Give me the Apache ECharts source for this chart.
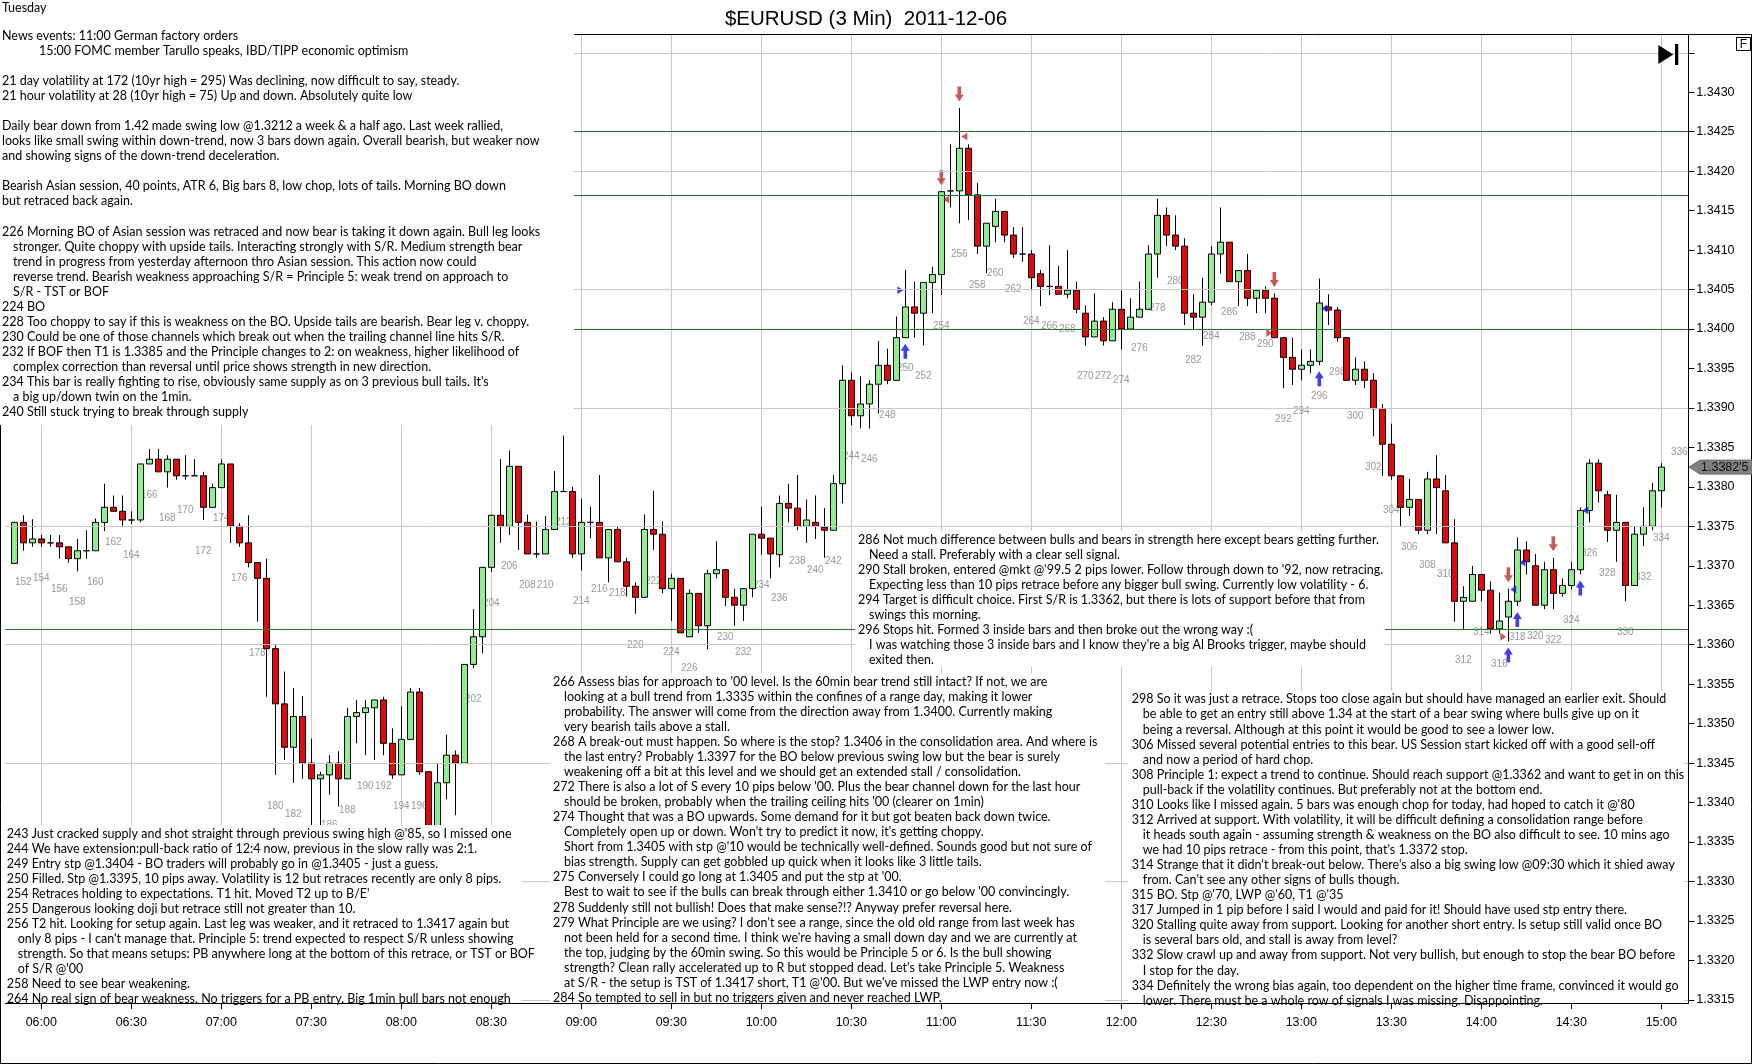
<!DOCTYPE html>
<html><head><meta charset="utf-8">
<script src="https://cdn.jsdelivr.net/npm/echarts@6/dist/echarts.min.js"></script>
<style>html,body{margin:0;padding:0;background:#fff;overflow:hidden}#c{width:1752px;height:1064px}</style>
</head><body><div id="c"></div>
<script>
// ---------------- DATA ----------------
const slotStart = 150, slotEnd = 337, firstBar = 151;
const opens = [
1.33703,1.33755,1.33729,1.33734,1.33729,1.33729,1.33724,1.33709,1.33719,1.33719,
1.33755,1.33774,1.33769,1.33758,1.33758,1.33829,1.33835,1.33819,1.33835,1.33814,
1.33814,1.33814,1.33774,1.33799,1.33829,1.33750,1.33729,1.33704,1.33684,1.33595,
1.33525,1.33470,1.33509,1.33450,1.33430,1.33435,1.33450,1.33430,1.33509,1.33514,
1.33520,1.33530,1.33475,1.33435,1.33480,1.33540,1.33439,1.33360,1.33425,1.33460,
1.33450,1.33575,1.33610,1.33698,1.33764,1.33750,1.33826,1.33755,1.33715,1.33715,
1.33746,1.33794,1.33794,1.33715,1.33755,1.33755,1.33710,1.33746,1.33705,1.33674,
1.33660,1.33746,1.33740,1.33671,1.33684,1.33610,1.33665,1.33624,1.33690,1.33695,
1.33660,1.33650,1.33671,1.33740,1.33735,1.33714,1.33779,1.33773,1.33750,1.33755,
1.33749,1.33745,1.33804,1.33935,1.33890,1.33905,1.33930,1.33954,1.33935,1.33989,
1.34028,1.34020,1.34059,1.34069,1.34175,1.34175,1.34229,1.34170,1.34105,1.34130,
1.34149,1.34119,1.34095,1.34095,1.34070,1.34054,1.34054,1.34044,1.34049,1.34020,
1.33990,1.34010,1.33985,1.34025,1.34000,1.34015,1.34025,1.34095,1.34144,1.34119,
1.34105,1.34020,1.34015,1.34034,1.34095,1.34110,1.34060,1.34074,1.34039,1.34049,
1.34039,1.33989,1.33964,1.33949,1.33954,1.33959,1.34028,1.34024,1.33989,1.33935,
1.33949,1.33935,1.33899,1.33854,1.33814,1.33774,1.33784,1.33745,1.33810,1.33795,
1.33729,1.33655,1.33655,1.33689,1.33669,1.33620,1.33635,1.33655,1.33720,1.33700,
1.33650,1.33695,1.33665,1.33675,1.33695,1.33770,1.33830,1.33790,1.33745,1.33755,
1.33675,1.33740,1.33750,1.33795];
const closes = [
1.33755,1.33729,1.33734,1.33729,1.33729,1.33724,1.33709,1.33719,1.33719,1.33755,
1.33774,1.33769,1.33758,1.33758,1.33829,1.33835,1.33819,1.33835,1.33814,1.33814,
1.33814,1.33774,1.33799,1.33829,1.33750,1.33729,1.33704,1.33684,1.33595,1.33525,
1.33470,1.33509,1.33450,1.33430,1.33435,1.33450,1.33430,1.33509,1.33514,1.33520,
1.33530,1.33475,1.33435,1.33480,1.33540,1.33439,1.33360,1.33425,1.33460,1.33450,
1.33575,1.33610,1.33698,1.33764,1.33750,1.33826,1.33755,1.33715,1.33715,1.33746,
1.33794,1.33794,1.33715,1.33755,1.33755,1.33710,1.33746,1.33705,1.33674,1.33660,
1.33746,1.33740,1.33671,1.33684,1.33615,1.33665,1.33624,1.33690,1.33695,1.33660,
1.33650,1.33671,1.33740,1.33735,1.33715,1.33779,1.33773,1.33750,1.33758,1.33750,
1.33745,1.33804,1.33935,1.33890,1.33905,1.33930,1.33954,1.33935,1.33989,1.34028,
1.34020,1.34059,1.34069,1.34174,1.34175,1.34229,1.34170,1.34105,1.34134,1.34149,
1.34119,1.34095,1.34095,1.34065,1.34054,1.34054,1.34044,1.34049,1.34025,1.33990,
1.34010,1.33985,1.34025,1.34000,1.34015,1.34025,1.34095,1.34144,1.34119,1.34105,
1.34020,1.34015,1.34034,1.34095,1.34110,1.34060,1.34074,1.34039,1.34049,1.34039,
1.33989,1.33964,1.33949,1.33954,1.33959,1.34033,1.34024,1.33989,1.33935,1.33949,
1.33935,1.33899,1.33854,1.33814,1.33774,1.33784,1.33745,1.33810,1.33799,1.33729,
1.33655,1.33660,1.33689,1.33669,1.33620,1.33630,1.33655,1.33720,1.33705,1.33650,
1.33695,1.33665,1.33675,1.33695,1.33770,1.33830,1.33795,1.33745,1.33755,1.33675,
1.33740,1.33750,1.33795,1.33825];
const lows = [
1.33703,1.33719,1.33724,1.33724,1.33724,1.33709,1.33704,1.33693,1.33709,1.33719,
1.33744,1.33769,1.33749,1.33753,1.33755,1.33829,1.33819,1.33799,1.33809,1.33809,
1.33814,1.33758,1.33774,1.33799,1.33729,1.33724,1.33698,1.33629,1.33534,1.33435,
1.33454,1.33425,1.33430,1.33360,1.33350,1.33410,1.33395,1.33430,1.33475,1.33460,
1.33454,1.33460,1.33430,1.33435,1.33480,1.33435,1.33340,1.33340,1.33404,1.33384,
1.33450,1.33570,1.33589,1.33692,1.33729,1.33739,1.33720,1.33715,1.33710,1.33715,
1.33746,1.33794,1.33710,1.33694,1.33735,1.33710,1.33679,1.33705,1.33661,1.33639,
1.33660,1.33720,1.33665,1.33630,1.33615,1.33610,1.33615,1.33594,1.33684,1.33649,
1.33624,1.33630,1.33660,1.33714,1.33684,1.33698,1.33755,1.33745,1.33729,1.33734,
1.33710,1.33745,1.33779,1.33878,1.33874,1.33874,1.33893,1.33930,1.33935,1.33989,
1.33989,1.33979,1.34020,1.34043,1.34154,1.34134,1.34138,1.34095,1.34071,1.34110,
1.34110,1.34090,1.34085,1.34049,1.34029,1.34043,1.34044,1.34039,1.34020,1.33979,
1.33990,1.33979,1.33985,1.33974,1.34000,1.34015,1.34025,1.34065,1.34105,1.34100,
1.34005,1.34000,1.33979,1.34030,1.34070,1.34060,1.34029,1.34029,1.34020,1.34020,
1.33989,1.33925,1.33929,1.33935,1.33944,1.33954,1.34005,1.33984,1.33935,1.33929,
1.33925,1.33864,1.33814,1.33809,1.33750,1.33763,1.33740,1.33740,1.33740,1.33729,
1.33629,1.33620,1.33655,1.33655,1.33614,1.33614,1.33604,1.33649,1.33689,1.33650,
1.33645,1.33645,1.33661,1.33670,1.33689,1.33755,1.33780,1.33730,1.33705,1.33655,
1.33675,1.33725,1.33745,1.33774];
const highs = [
1.33755,1.33764,1.33759,1.33739,1.33739,1.33739,1.33724,1.33734,1.33745,1.33760,
1.33804,1.33789,1.33789,1.33769,1.33829,1.33848,1.33848,1.33840,1.33835,1.33840,
1.33835,1.33819,1.33804,1.33835,1.33829,1.33754,1.33764,1.33704,1.33709,1.33600,
1.33566,1.33545,1.33535,1.33481,1.33439,1.33460,1.33465,1.33520,1.33530,1.33530,
1.33530,1.33534,1.33494,1.33522,1.33545,1.33545,1.33439,1.33450,1.33486,1.33466,
1.33575,1.33645,1.33698,1.33764,1.33835,1.33846,1.33826,1.33765,1.33756,1.33763,
1.33820,1.33865,1.33800,1.33785,1.33775,1.33815,1.33746,1.33750,1.33710,1.33679,
1.33765,1.33795,1.33756,1.33690,1.33684,1.33670,1.33665,1.33695,1.33731,1.33695,
1.33671,1.33671,1.33740,1.33775,1.33735,1.33789,1.33804,1.33815,1.33784,1.33789,
1.33773,1.33815,1.33954,1.33945,1.33940,1.33935,1.33985,1.33975,1.34016,1.34075,
1.34060,1.34059,1.34079,1.34174,1.34234,1.34280,1.34234,1.34185,1.34134,1.34165,
1.34149,1.34129,1.34129,1.34100,1.34075,1.34106,1.34080,1.34100,1.34060,1.34030,
1.34045,1.34015,1.34034,1.34049,1.34039,1.34060,1.34106,1.34165,1.34154,1.34144,
1.34115,1.34044,1.34065,1.34105,1.34154,1.34110,1.34074,1.34095,1.34049,1.34054,
1.34045,1.33989,1.33989,1.33974,1.33974,1.34064,1.34044,1.34028,1.33989,1.33964,
1.33959,1.33944,1.33905,1.33880,1.33814,1.33810,1.33784,1.33819,1.33840,1.33815,
1.33759,1.33674,1.33700,1.33689,1.33680,1.33666,1.33671,1.33736,1.33731,1.33715,
1.33705,1.33710,1.33684,1.33705,1.33774,1.33835,1.33835,1.33795,1.33790,1.33755,
1.33750,1.33774,1.33805,1.33830];

const yTickValues = [1.3315,1.3320,1.3325,1.3330,1.3335,1.3340,1.3345,1.3350,1.3355,1.3360,1.3365,1.3370,1.3375,1.3380,1.3385,1.3390,1.3395,1.3400,1.3405,1.3410,1.3415,1.3420,1.3425,1.3430,1.3435];
const yLabelValues = yTickValues.slice(0, 24);
const gridLevels = [1.3315,1.3330,1.3345,1.3360,1.3375,1.3390,1.3405,1.3420,1.3435];
const srLevels = [1.3425,1.3417,1.3400,1.3362];
const downArrowBars = [254,256,291,317,322];
const upArrowBars = [250,296,317,318,325];
const leftTriangles = [[254,1.34164,'#b8322a'],[256,1.34244,'#b8322a'],[296,1.34026,'#1010e0'],[317,1.33670,'#1010e0'],[318,1.33704,'#1010e0'],[325,1.33770,'#1010e0']];
const rightTriangles = [[250,1.34049,'#1010e0'],[291,1.33995,'#b8322a'],[317,1.33610,'#b8322a']];
const nextBarLabel = [336, 1.33844];
const lastPriceText = "1.3382'5";
const titleText = '$EURUSD (3 Min)  2011-12-06';
const dayText = 'Tuesday';

const notesTopLeft = [
"News events: 11:00 German factory orders",
">>15:00 FOMC member Tarullo speaks, IBD/TIPP economic optimism",
"",
"21 day volatility at 172 (10yr high = 295) Was declining, now difficult to say, steady.",
"21 hour volatility at 28 (10yr high = 75) Up and down. Absolutely quite low",
"",
"Daily bear down from 1.42 made swing low @1.3212 a week & a half ago. Last week rallied,",
"looks like small swing within down-trend, now 3 bars down again. Overall bearish, but weaker now",
"and showing signs of the down-trend deceleration.",
"",
"Bearish Asian session, 40 points, ATR 6, Big bars 8, low chop, lots of tails. Morning BO down",
"but retraced back again.",
"",
"226 Morning BO of Asian session was retraced and now bear is taking it down again. Bull leg looks",
">stronger. Quite choppy with upside tails. Interacting strongly with S/R. Medium strength bear",
">trend in progress from yesterday afternoon thro Asian session. This action now could",
">reverse trend. Bearish weakness approaching S/R = Principle 5: weak trend on approach to",
">S/R - TST or BOF",
"224 BO",
"228 Too choppy to say if this is weakness on the BO. Upside tails are bearish. Bear leg v. choppy.",
"230 Could be one of those channels which break out when the trailing channel line hits S/R.",
"232 If BOF then T1 is 1.3385 and the Principle changes to 2: on weakness, higher likelihood of",
">complex correction than reversal until price shows strength in new direction.",
"234 This bar is really fighting to rise, obviously same supply as on 3 previous bull tails. It's",
">a big up/down twin on the 1min.",
"240 Still stuck trying to break through supply"];
const notesMiddle = [
"286 Not much difference between bulls and bears in strength here except bears getting further.",
">Need a stall. Preferably with a clear sell signal.",
"290 Stall broken, entered @mkt @'99.5 2 pips lower. Follow through down to '92, now retracing.",
">Expecting less than 10 pips retrace before any bigger bull swing. Currently low volatility - 6.",
"294 Target is difficult choice. First S/R is 1.3362, but there is lots of support before that from",
">swings this morning.",
"296 Stops hit. Formed 3 inside bars and then broke out the wrong way :(",
">I was watching those 3 inside bars and I know they're a big Al Brooks trigger, maybe should",
">exited then."];
const notesBottomLeft = [
"243 Just cracked supply and shot straight through previous swing high @'85, so I missed one",
"244 We have extension:pull-back ratio of 12:4 now, previous in the slow rally was 2:1.",
"249 Entry stp @1.3404 - BO traders will probably go in @1.3405 - just a guess.",
"250 Filled. Stp @1.3395, 10 pips away. Volatility is 12 but retraces recently are only 8 pips.",
"254 Retraces holding to expectations. T1 hit. Moved T2 up to B/E'",
"255 Dangerous looking doji but retrace still not greater than 10.",
"256 T2 hit. Looking for setup again. Last leg was weaker, and it retraced to 1.3417 again but",
">only 8 pips - I can't manage that. Principle 5: trend expected to respect S/R unless showing",
">strength. So that means setups: PB anywhere long at the bottom of this retrace, or TST or BOF",
">of S/R @'00",
"258 Need to see bear weakening.",
"264 No real sign of bear weakness. No triggers for a PB entry. Big 1min bull bars not enough"];
const notesBottomMiddle = [
"266 Assess bias for approach to '00 level. Is the 60min bear trend still intact? If not, we are",
">looking at a bull trend from 1.3335 within the confines of a range day, making it lower",
">probability. The answer will come from the direction away from 1.3400. Currently making",
">very bearish tails above a stall.",
"268 A break-out must happen. So where is the stop? 1.3406 in the consolidation area. And where is",
">the last entry? Probably 1.3397 for the BO below previous swing low but the bear is surely",
">weakening off a bit at this level and we should get an extended stall / consolidation.",
"272 There is also a lot of S every 10 pips below '00. Plus the bear channel down for the last hour",
">should be broken, probably when the trailing ceiling hits '00 (clearer on 1min)",
"274 Thought that was a BO upwards. Some demand for it but got beaten back down twice.",
">Completely open up or down. Won't try to predict it now, it's getting choppy.",
">Short from 1.3405 with stp @'10 would be technically well-defined. Sounds good but not sure of",
">bias strength. Supply can get gobbled up quick when it looks like 3 little tails.",
"275 Conversely I could go long at 1.3405 and put the stp at '00.",
">Best to wait to see if the bulls can break through either 1.3410 or go below '00 convincingly.",
"278 Suddenly still not bullish! Does that make sense?!? Anyway prefer reversal here.",
"279 What Principle are we using? I don't see a range, since the old old range from last week has",
">not been held for a second time. I think we're having a small down day and we are currently at",
">the top, judging by the 60min swing. So this would be Principle 5 or 6. Is the bull showing",
">strength? Clean rally accelerated up to R but stopped dead. Let's take Principle 5. Weakness",
">at S/R - the setup is TST of 1.3417 short, T1 @'00. But we've missed the LWP entry now :(",
"284 So tempted to sell in but no triggers given and never reached LWP."];
const notesBottomRight = [
"298 So it was just a retrace. Stops too close again but should have managed an earlier exit. Should",
">be able to get an entry still above 1.34 at the start of a bear swing where bulls give up on it",
">being a reversal. Although at this point it would be good to see a lower low.",
"306 Missed several potential entries to this bear. US Session start kicked off with a good sell-off",
">and now a period of hard chop.",
"308 Principle 1: expect a trend to continue. Should reach support @1.3362 and want to get in on this",
">pull-back if the volatility continues. But preferably not at the bottom end.",
"310 Looks like I missed again. 5 bars was enough chop for today, had hoped to catch it @'80",
"312 Arrived at support. With volatility, it will be difficult defining a consolidation range before",
">it heads south again - assuming strength & weakness on the BO also difficult to see. 10 mins ago",
">we had 10 pips retrace - from this point, that's 1.3372 stop.",
"314 Strange that it didn't break-out below. There's also a big swing low @09:30 which it shied away",
">from. Can't see any other signs of bulls though.",
"315 BO. Stp @'70, LWP @'60, T1 @'35",
"317 Jumped in 1 pip before I said I would and paid for it! Should have used stp entry there.",
"320 Stalling quite away from support. Looking for another short entry. Is setup still valid once BO",
">is several bars old, and stall is away from level?",
"332 Slow crawl up and away from support. Not very bullish, but enough to stop the bear BO before",
">I stop for the day.",
"334 Definitely the wrong bias again, too dependent on the higher time frame, convinced it would go",
">lower. There must be a whole row of signals I was missing. Disappointing."];

// ---------------- BUILD ----------------
const pad = v => (v < 10 ? '0' : '') + v;
const cats = [];
for (let n = slotStart; n <= slotEnd; n++) { const m = 360 + (n - 154) * 3; cats.push(pad(Math.floor(m / 60)) + ':' + pad(m % 60)); }
const idx = n => n - slotStart;
const showTick = i => { const n = i + slotStart; return n >= 154 && n <= 334 && (n - 154) % 10 === 0; };
const candleData = opens.map((o, i) => [idx(firstBar + i), o, closes[i], lows[i], highs[i]]);
const labelData = [];
for (let n = 152; n <= 334; n += 2) labelData.push([idx(n), lows[n - firstBar], String(n)]);
const downData = downArrowBars.map(n => [idx(n), highs[n - firstBar]]);
const upData = upArrowBars.map(n => [idx(n), lows[n - firstBar]]);
const ltData = leftTriangles.map(t => ({ value: [idx(t[0]), t[1]], itemStyle: { color: t[2] } }));
const rtData = rightTriangles.map(t => ({ value: [idx(t[0]), t[1]], itemStyle: { color: t[2] } }));

const GL = 5.3, GT = 34.3, GW = 1683, GH = 968.7;
const yMax = 1.3425 + (131.7 - GT) / 78920;
const yMin = 1.3425 - (GT + GH - 131.7) / 78920;
const RED = '#b8322a', BLUE = '#1010e0';
const downPath = 'path://M3,0 L7,0 L7,8 L10,8 L5,15 L0,8 L3,8 Z';
const upPath = 'path://M5,0 L10,7 L7,7 L7,15 L3,15 L3,7 L0,7 Z';

const chart = echarts.init(document.getElementById('c'));
chart.setOption({
  animation: false,
  backgroundColor: '#fff',
  grid: { left: GL, top: GT, width: GW, height: GH, containLabel: false },
  xAxis: {
    type: 'category', data: cats, boundaryGap: false,
    axisLine: { show: true, lineStyle: { color: '#000', width: 1 } },
    axisTick: { show: true, interval: showTick, length: 6, lineStyle: { color: '#000' } },
    axisLabel: { interval: showTick, margin: 13, color: '#000', fontSize: 12.5, fontFamily: 'Liberation Sans' },
    splitLine: { show: true, interval: showTick, lineStyle: { color: '#c8c8c8', width: 1 } }
  },
  yAxis: {
    type: 'value', position: 'right', min: yMin, max: yMax, scale: true,
    axisLine: { show: true, lineStyle: { color: '#000', width: 1 } },
    axisTick: { show: true, length: 6, customValues: yTickValues, lineStyle: { color: '#000' } },
    axisLabel: { customValues: yLabelValues, formatter: v => v.toFixed(4), margin: 8, color: '#000', fontSize: 12.5, fontFamily: 'Liberation Sans' },
    splitLine: { show: false }
  },
  series: [
    {
      type: 'scatter', z: 1, silent: true, symbolSize: 1, itemStyle: { color: 'rgba(0,0,0,0)' },
      data: labelData,
      label: { show: true, position: 'inside', offset: [0, 31], formatter: p => p.data[2], color: '#808080', fontSize: 10, fontFamily: 'Liberation Sans' },
      markLine: {
        silent: true, symbol: ['none', 'none'], label: { show: false }, animation: false, precision: 6,
        data: gridLevels.map(v => ({ yAxis: v, lineStyle: { color: '#c8c8c8', width: 1, type: 'solid' } }))
          .concat(srLevels.map(v => ({ yAxis: v, lineStyle: { color: '#237a23', width: 1, type: 'solid' } })))
      }
    },
    {
      type: 'scatter', z: 1, silent: true, symbolSize: 1, itemStyle: { color: 'rgba(0,0,0,0)' },
      data: [[idx(nextBarLabel[0]), nextBarLabel[1], String(nextBarLabel[0])]],
      label: { show: true, position: 'inside', formatter: p => p.data[2], color: '#808080', fontSize: 10, fontFamily: 'Liberation Sans' }
    },
    {
      type: 'candlestick', z: 3, barWidth: 6, data: candleData,
      encode: { x: 0, y: [1, 2, 3, 4] },
      itemStyle: { color: '#90ee90', color0: '#e00a0a', borderColor: '#000', borderColor0: '#000', borderColorDoji: '#000', borderWidth: 1 }
    },
    { type: 'scatter', z: 4, silent: true, data: downData, symbol: downPath, symbolSize: [9, 15], symbolOffset: [0, -14], itemStyle: { color: RED } },
    { type: 'scatter', z: 4, silent: true, data: upData, symbol: upPath, symbolSize: [9, 15], symbolOffset: [0, 13.5], itemStyle: { color: BLUE } },
    { type: 'scatter', z: 4, silent: true, data: ltData, symbol: 'path://M0,4 L6,0 L6,8 Z', symbolSize: [6, 8], symbolOffset: [5, 0] },
    { type: 'scatter', z: 4, silent: true, data: rtData, symbol: 'path://M0,0 L6,4 L0,8 Z', symbolSize: [6, 8], symbolOffset: [-5, 0] }
  ]
});

// ---------------- GRAPHICS (text, frame) ----------------
const FONT = '12.5px Lato';
const LH = 15.06;
const g = [];
g.push({ type: 'rect', z: 50, shape: { x: 0.5, y: 34.5, width: 1751, height: 1029 }, style: { fill: null, stroke: '#000', lineWidth: 1 } });
function box(x, y, w, h) { g.push({ type: 'rect', z: 100, shape: { x, y, width: w, height: h }, style: { fill: '#fff' } }); }
function block(lines, x, y0, indent) {
  lines.forEach((ln, i) => {
    let lvl = 0; while (ln[lvl] === '>') lvl++;
    const t = ln.slice(lvl);
    if (!t) return;
    const dx = lvl === 0 ? 0 : (lvl === 1 ? indent : 37);
    g.push({ type: 'text', z: 101, style: { text: t, x: x + dx, y: y0 + i * LH, font: FONT, fill: '#000', verticalAlign: 'middle', textVerticalAlign: 'middle' } });
  });
}
box(0, 0, 574, 425);
box(855, 531, 530, 136);
box(550, 673, 555, 329);
box(1128, 691, 556, 311);
box(1.5, 825, 520, 177);
block(notesTopLeft, 2, 35.8, 11);
block(notesMiddle, 858, 539.7, 11);
block(notesBottomLeft, 6.7, 833.5, 11);
block(notesBottomMiddle, 553, 681.6, 11);
block(notesBottomRight, 1131.8, 699.4, 11);
g.push({ type: 'text', z: 101, style: { text: dayText, x: 2, y: 8, font: FONT, fill: '#000', verticalAlign: 'middle', textVerticalAlign: 'middle' } });
g.push({ type: 'text', z: 101, style: { text: titleText, x: 866, y: 19, font: '20.5px "Liberation Sans"', fill: '#000', align: 'center', textAlign: 'center', verticalAlign: 'middle', textVerticalAlign: 'middle' } });
// play-to-end icon and F box
g.push({ type: 'polygon', z: 101, shape: { points: [[1658.3, 45], [1673.3, 54.5], [1658.3, 64]] }, style: { fill: '#000' } });
g.push({ type: 'rect', z: 101, shape: { x: 1675, y: 44, width: 3.3, height: 21 }, style: { fill: '#000' } });
g.push({ type: 'rect', z: 101, shape: { x: 1736.5, y: 37.5, width: 14, height: 13 }, style: { fill: '#fff', stroke: '#000', lineWidth: 1 } });
g.push({ type: 'text', z: 102, style: { text: 'F', x: 1743.5, y: 44.5, font: '12px "Liberation Sans"', fill: '#000', align: 'center', textAlign: 'center', verticalAlign: 'middle', textVerticalAlign: 'middle' } });
// last price tag
const lastClose = closes[closes.length - 1];
const ty = chart.convertToPixel({ yAxisIndex: 0 }, lastClose);
g.push({ type: 'polygon', z: 101, shape: { points: [[1689, ty], [1700, ty - 7], [1752, ty - 7], [1752, ty + 7], [1700, ty + 7]] }, style: { fill: '#808080', stroke: '#6a6a6a', lineWidth: 1 } });
g.push({ type: 'text', z: 102, style: { text: lastPriceText, x: 1701, y: ty, font: '12.5px "Liberation Sans"', fill: '#111', verticalAlign: 'middle', textVerticalAlign: 'middle' } });
chart.setOption({ graphic: { elements: g } });
</script></body></html>
